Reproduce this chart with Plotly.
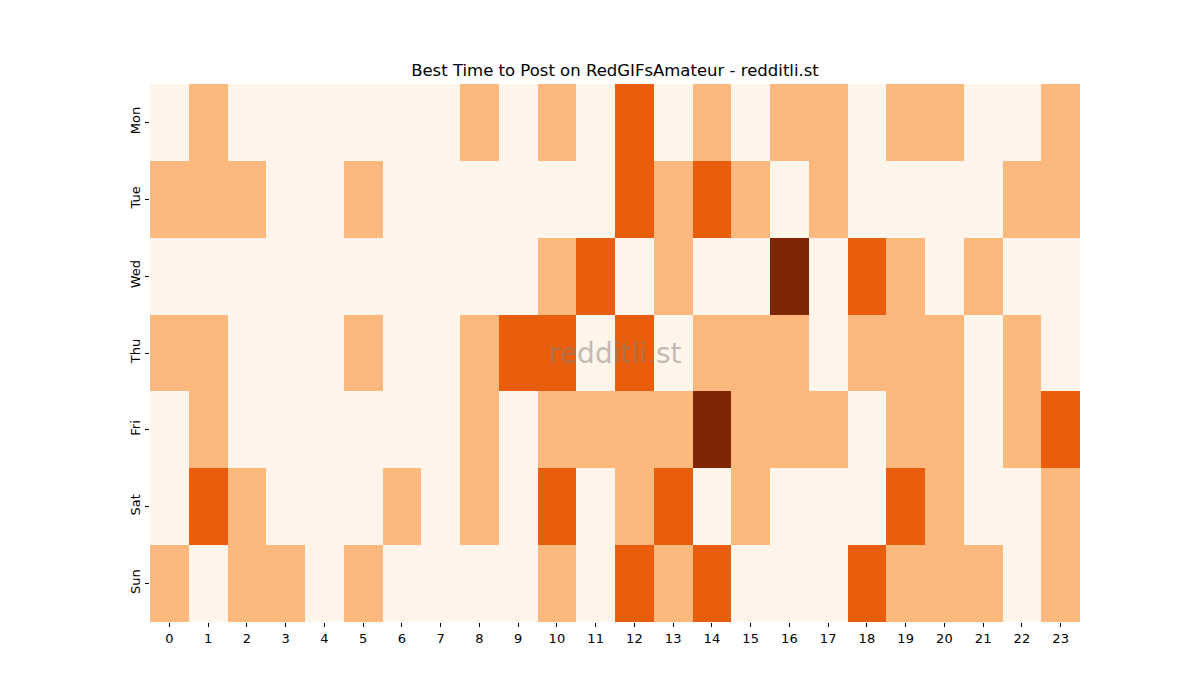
import plotly.graph_objects as go

days = ["Mon", "Tue", "Wed", "Thu", "Fri", "Sat", "Sun"]
hours = list(range(24))

mon = [0, 1, 0, 0, 0, 0, 0, 0, 1, 0, 1, 0, 2, 0, 1, 0, 1, 1, 0, 1, 1, 0, 0, 1]
tue = [1, 1, 1, 0, 0, 1, 0, 0, 0, 0, 0, 0, 2, 1, 2, 1, 0, 1, 0, 0, 0, 0, 1, 1]
wed = [0, 0, 0, 0, 0, 0, 0, 0, 0, 0, 1, 2, 0, 1, 0, 0, 3, 0, 2, 1, 0, 1, 0, 0]
thu = [1, 1, 0, 0, 0, 1, 0, 0, 1, 2, 2, 0, 2, 0, 1, 1, 1, 0, 1, 1, 1, 0, 1, 0]
fri = [0, 1, 0, 0, 0, 0, 0, 0, 1, 0, 1, 1, 1, 1, 3, 1, 1, 1, 0, 1, 1, 0, 1, 2]
sat = [0, 2, 1, 0, 0, 0, 1, 0, 1, 0, 2, 0, 1, 2, 0, 1, 0, 0, 0, 2, 1, 0, 0, 1]
sun = [1, 0, 1, 1, 0, 1, 0, 0, 0, 0, 1, 0, 2, 1, 2, 0, 0, 0, 2, 1, 1, 1, 0, 1]

z = [mon, tue, wed, thu, fri, sat, sun]

level_colors = ["#fff5eb", "#fdb87d", "#e95e0d", "#7f2704"]
colorscale = []
n = len(level_colors)
for i, c in enumerate(level_colors):
    colorscale.append([i / n, c])
    colorscale.append([(i + 1) / n, c])

fig = go.Figure(
    go.Heatmap(
        z=z,
        x=hours,
        y=days,
        zmin=-0.5,
        zmax=3.5,
        colorscale=colorscale,
        showscale=False,
        xgap=0,
        ygap=0,
        hoverongaps=False,
    )
)

font_family = "DejaVu Sans"
fig.update_layout(
    width=1200,
    height=700,
    margin=dict(l=150, r=120, t=84, b=78),
    paper_bgcolor="white",
    plot_bgcolor="white",
    font=dict(family=font_family, size=13, color="black"),
    title=dict(
        text="Best Time to Post on RedGIFsAmateur - redditli.st",
        x=0.5125,
        xanchor="center",
        y=1 - 70 / 700,
        yanchor="middle",
        yref="container",
        font=dict(family=font_family, size=16.5, color="black"),
    ),
)

fig.update_xaxes(
    tickmode="array",
    tickvals=hours,
    ticktext=[str(h) for h in hours],
    ticks="outside",
    ticklen=4,
    tickcolor="black",
    tickwidth=1,
    showgrid=False,
    zeroline=False,
    showline=False,
    range=[-0.5, 23.5],
    tickfont=dict(size=13),
)
fig.update_yaxes(
    autorange="reversed",
    ticks="outside",
    ticklen=4,
    tickcolor="black",
    tickwidth=1,
    tickangle=-90,
    showgrid=False,
    zeroline=False,
    showline=False,
    tickfont=dict(size=13),
)

fig.add_annotation(
    text="redditli.st",
    x=0.5,
    y=0.5,
    xref="paper",
    yref="paper",
    showarrow=False,
    font=dict(family=font_family, size=28, color="rgba(128,128,128,0.5)"),
)

fig.write_html("out.html")
